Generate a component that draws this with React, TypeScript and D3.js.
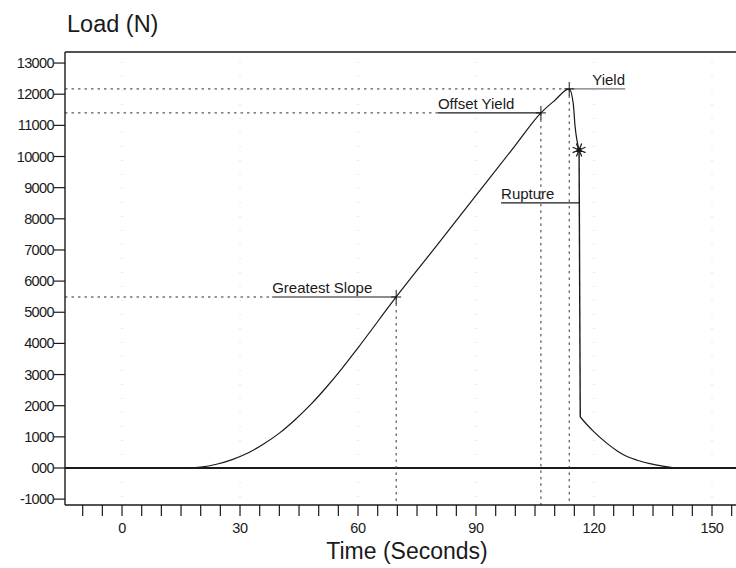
import React from 'react';
import * as d3 from 'd3';

// ---- data ----
const timeSec = [-14.5, 0, 10, 16, 20, 24, 28, 32, 36, 40, 44, 48, 52, 56, 60, 69.7, 80, 90, 100, 106.5, 110, 113.7, 114.7, 115.2, 116.2, 116.5, 118, 120, 123.3, 126, 128.4, 131, 134.2, 137.5, 141.1, 156.1];
const loadN = [0, 0, 0, 0, 30, 120, 270, 480, 770, 1120, 1550, 2040, 2600, 3210, 3860, 5490, 7140, 8750, 10360, 11400, 11800, 12170, 11720, 10950, 10210, 1640, 1420, 1160, 790, 540, 370, 250, 140, 60, 0, 0];
const ruptureTime = 116.2;

const yTickValues = [-1000, 0, 1000, 2000, 3000, 4000, 5000, 6000, 7000, 8000, 9000, 10000, 11000, 12000, 13000];
const yTickLabels = ['-1000', '000', '1000', '2000', '3000', '4000', '5000', '6000', '7000', '8000', '9000', '10000', '11000', '12000', '13000'];
const xMajorTicks = [0, 30, 60, 90, 120, 150];
const xMinorTicks = [-10, -5, 0, 5, 10, 15, 20, 25, 30, 35, 40, 45, 50, 55, 60, 65, 70, 75, 80, 85, 90, 95, 100, 105, 110, 115, 120, 125, 130, 135, 140, 145, 150, 155];

const markerNames = ['Greatest Slope', 'Offset Yield', 'Yield', 'Rupture'];
const markerTimes = [69.7, 106.5, 113.7, 116.2];
const markerLoads = [5490, 11400, 12170, 10210];

export default function App() {
  const W = 736, H = 568;
  const left = 65, right = 736, top = 52, bottom = 505;
  const x = d3.scaleLinear().domain([-14.5, 156.1]).range([left, right]);
  const y = d3.scaleLinear().domain([-1188, 13355]).range([bottom, top]);
  const font = 'Arial, "Liberation Sans", sans-serif';
  const ink = '#1a1a1a';

  const pts = timeSec.map((t, i) => [t, loadN[i]] as [number, number]);
  const ri = timeSec.indexOf(ruptureTime);
  const before = pts.slice(0, ri + 1);
  const drop = pts.slice(ri, ri + 2);
  const after = pts.slice(ri + 1);
  const smooth = d3.line<[number, number]>().x(d => x(d[0])).y(d => y(d[1])).curve(d3.curveMonotoneX);
  const straight = d3.line<[number, number]>().x(d => x(d[0])).y(d => y(d[1]));

  // annotation layout (pixel offsets)
  const layout = [
    { side: 'left', offset: 124, hDash: true, vDot: true, mark: 'cross', labelDy: 0 },
    { side: 'left', offset: 103, hDash: true, vDot: true, mark: 'cross', labelDy: 0 },
    { side: 'right', offset: 23, hDash: true, vDot: true, mark: 'cross', labelDy: 0 },
    { side: 'left', offset: 78, hDash: false, vDot: false, mark: 'star', labelDy: 53 },
  ];
  const textW = [101, 79, 33, 54];

  const annotations = markerNames.map((name, i) => {
    const px = x(markerTimes[i]);
    const py = y(markerLoads[i]);
    const L = layout[i];
    const ly = py + L.labelDy;
    const els: React.ReactNode[] = [];
    if (L.hDash) {
      const endX = L.side === 'left' ? px - L.offset : px;
      els.push(<line key="hd" x1={left} x2={endX} y1={py} y2={py} stroke="#333" strokeWidth={1} strokeDasharray="2.5 4" />);
    }
    if (L.vDot) {
      els.push(<line key="vd" x1={px} x2={px} y1={py} y2={bottom} stroke="#333" strokeWidth={1} strokeDasharray="2.5 4" />);
    }
    let tx: number;
    if (L.side === 'left') {
      tx = px - L.offset;
      els.push(<line key="ul" x1={tx} x2={px} y1={ly} y2={ly} stroke={ink} strokeWidth={1.2} />);
    } else {
      tx = px + L.offset;
      els.push(<line key="ul" x1={px} x2={tx + textW[i]} y1={ly} y2={ly} stroke="#555" strokeWidth={1} />);
    }
    els.push(<text key="t" x={tx} y={ly - 4} fontSize={15} fontFamily={font} fill={ink}>{name}</text>);
    if (L.mark === 'cross') {
      els.push(<path key="m" d={`M${px - 5},${py}H${px + 5}M${px},${py - 7}V${py + 7}`} stroke={ink} strokeWidth={1} fill="none" />);
    } else {
      const r = 7;
      const d = d3.range(8).map(k => {
        const a = (k * Math.PI) / 4 + Math.PI / 8;
        return `M${px},${py}L${px + r * Math.cos(a)},${py + r * Math.sin(a)}`;
      }).join('');
      els.push(<path key="m" d={d} stroke={ink} strokeWidth={1.2} fill="none" />);
      els.push(<circle key="c" cx={px} cy={py} r={2.5} fill={ink} />);
    }
    return <g key={name}>{els}</g>;
  });

  return (
    <svg width={W} height={H} style={{ position: 'absolute', left: 0, top: 0, background: '#fff' }}>
      <rect x={0} y={0} width={W} height={H} fill="#fff" />
      {/* faint vertical grid */}
      {xMajorTicks.map(t => (
        <line key={'g' + t} x1={x(t)} x2={x(t)} y1={top + 10} y2={bottom} stroke="#aaa" strokeWidth={1} strokeDasharray="1 13" opacity={0.5} />
      ))}
      {/* zero line */}
      <line x1={left} x2={right} y1={y(0)} y2={y(0)} stroke={ink} strokeWidth={2.2} />
      {/* annotations */}
      {annotations}
      {/* curve */}
      <path d={smooth(before) || ''} fill="none" stroke={ink} strokeWidth={1.2} />
      <path d={straight(drop) || ''} fill="none" stroke={ink} strokeWidth={1.4} />
      <path d={smooth(after) || ''} fill="none" stroke={ink} strokeWidth={1.2} />
      {/* frame / axes */}
      <line x1={left} x2={right} y1={top} y2={top} stroke={ink} strokeWidth={1.6} />
      <line x1={left} x2={left} y1={top} y2={bottom} stroke={ink} strokeWidth={1.4} />
      <line x1={left} x2={right} y1={bottom} y2={bottom} stroke={ink} strokeWidth={1.4} />
      {yTickValues.map((v, i) => (
        <g key={'y' + v}>
          <line x1={left - 11} x2={left} y1={y(v)} y2={y(v)} stroke={ink} strokeWidth={1.2} />
          <text x={left - 11} y={y(v) + 5} textAnchor="end" fontSize={14.5} fontFamily={font} fill={ink} letterSpacing={-0.6}>{yTickLabels[i]}</text>
        </g>
      ))}
      {xMinorTicks.map(t => (
        <line key={'xm' + t} x1={x(t)} x2={x(t)} y1={bottom} y2={bottom + 11} stroke={ink} strokeWidth={1.2} />
      ))}
      {xMajorTicks.map(t => (
        <text key={'xl' + t} x={x(t)} y={533} textAnchor="middle" fontSize={14.5} fontFamily={font} fill={ink} letterSpacing={-0.4}>{t}</text>
      ))}
      <text x={67} y={32} fontSize={23.5} fontFamily={font} fill={ink}>Load (N)</text>
      <text x={407} y={559} textAnchor="middle" fontSize={23} fontFamily={font} fill={ink}>Time (Seconds)</text>
    </svg>
  );
}
